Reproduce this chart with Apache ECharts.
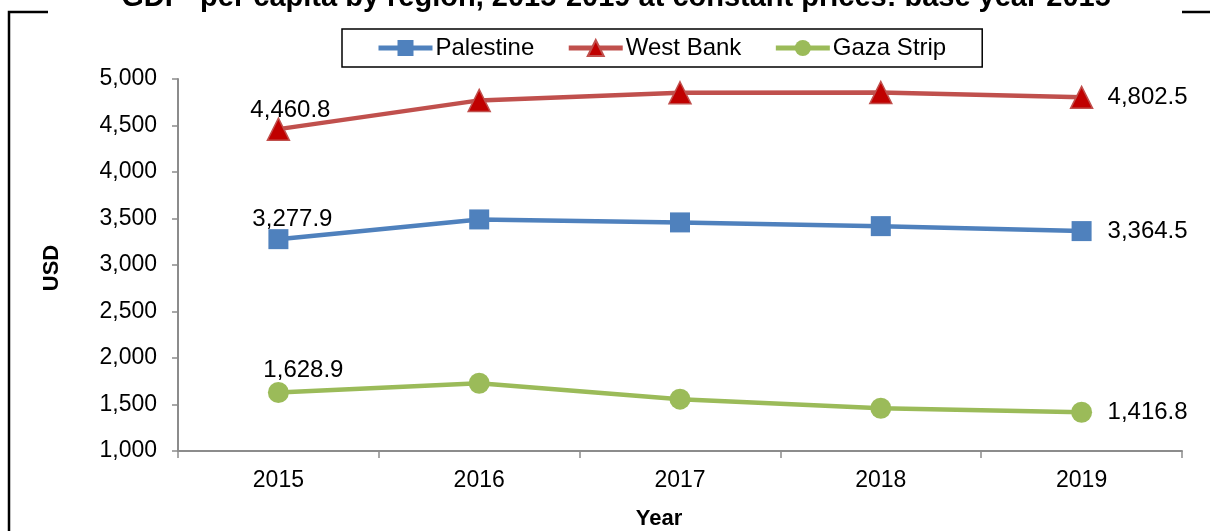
<!DOCTYPE html>
<html>
<head>
<meta charset="utf-8">
<script src="https://cdn.jsdelivr.net/npm/echarts@6/dist/echarts.min.js"></script>
<style>
html,body{margin:0;padding:0;background:#fff;}
#chart{width:1210px;height:531px;}
</style>
</head>
<body>
<div id="chart"></div>
<script>
var years = ['2015', '2016', '2017', '2018', '2019'];
var palestine = [3277.9, 3490, 3458, 3418, 3364.5];
var westBank = [4460.8, 4770, 4852, 4855, 4802.5];
var gazaStrip = [1628.9, 1729, 1557, 1460, 1416.8];
var yTicks = [1000, 5000, 500];

var FONT = 'Liberation Sans, Arial, sans-serif';

function fmt(v) {
  return v.toLocaleString('en-US', {minimumFractionDigits: 1, maximumFractionDigits: 1});
}

function withLabels(arr, firstOffset) {
  return arr.map(function (v, i) {
    var item = {value: v};
    if (i === 0) {
      item.label = {show: true, position: 'inside', offset: firstOffset};
    } else if (i === arr.length - 1) {
      item.label = {show: true, position: 'inside', offset: [66, 0]};
    }
    return item;
  });
}

var labelStyle = {
  color: '#000',
  fontFamily: FONT,
  fontSize: 24,
  formatter: function (p) { return fmt(p.value); }
};

var chart = echarts.init(document.getElementById('chart'), null, {renderer: 'canvas'});
chart.setOption({
  backgroundColor: '#fff',
  animation: false,
  textStyle: {fontFamily: FONT},
  grid: {left: 178, right: 28, top: 79, bottom: 80, containLabel: false},
  legend: {
    left: 342,
    top: 29,
    padding: [7, 36, 7, 34],
    borderColor: '#000',
    borderWidth: 1.5,
    itemGap: 32,
    itemWidth: 54,
    itemHeight: 20,
    lineStyle: {width: 5},
    textStyle: {fontSize: 24, color: '#000', fontFamily: FONT, padding: [2, 0, 0, -2]},
    data: ['Palestine', 'West Bank', 'Gaza Strip']
  },
  xAxis: {
    type: 'category',
    data: years,
    boundaryGap: true,
    axisLine: {lineStyle: {color: '#8c8c8c', width: 2}},
    axisTick: {show: true, length: 7, inside: false, lineStyle: {color: '#8c8c8c', width: 1.5}},
    axisLabel: {color: '#000', fontSize: 23, fontFamily: FONT, margin: 18},
    splitLine: {show: false}
  },
  yAxis: {
    type: 'value',
    min: yTicks[0],
    max: yTicks[1],
    interval: yTicks[2],
    axisLine: {show: true, lineStyle: {color: '#8c8c8c', width: 2}},
    axisTick: {show: true, length: 6, lineStyle: {color: '#8c8c8c', width: 1.5}},
    axisLabel: {
      color: '#000', fontSize: 23, fontFamily: FONT, margin: 21,
      formatter: function (v) { return v.toLocaleString('en-US'); }
    },
    splitLine: {show: false}
  },
  graphic: [
    {type: 'rect', z: 0, shape: {x: 9, y: 12, width: 1300, height: 600},
     style: {fill: 'none', stroke: '#000', lineWidth: 2.5}},
    {type: 'rect', z: 1, shape: {x: 48, y: 0, width: 1134, height: 16},
     style: {fill: '#fff'}},
    {type: 'text', z: 2, x: 616, y: -2,
     style: {text: 'GDP  per capita by region, 2015-2019 at constant prices: base year 2015',
             fill: '#000', font: 'bold 29px ' + FONT, textAlign: 'center', verticalAlign: 'middle'}},
    {type: 'text', z: 2, x: 52, y: 268, rotation: Math.PI / 2,
     style: {text: 'USD', fill: '#000', font: 'bold 22px ' + FONT, textAlign: 'center', verticalAlign: 'middle'}},
    {type: 'text', z: 2, x: 659, y: 519,
     style: {text: 'Year', fill: '#000', font: 'bold 22px ' + FONT, textAlign: 'center', verticalAlign: 'middle'}}
  ],
  series: [
    {
      name: 'Palestine',
      type: 'line',
      data: withLabels(palestine, [14, -20]),
      symbol: 'rect',
      symbolSize: 20,
      lineStyle: {color: '#4F81BD', width: 4.5},
      itemStyle: {color: '#4F81BD'},
      label: labelStyle,
      z: 3
    },
    {
      name: 'West Bank',
      type: 'line',
      data: withLabels(westBank, [12, -19]),
      symbol: 'triangle',
      symbolSize: 22,
      lineStyle: {color: '#C0504D', width: 4.5},
      itemStyle: {color: '#C00000', borderColor: '#C0504D', borderWidth: 1.5},
      label: labelStyle,
      z: 3
    },
    {
      name: 'Gaza Strip',
      type: 'line',
      data: withLabels(gazaStrip, [25, -22]),
      symbol: 'circle',
      symbolSize: 21,
      lineStyle: {color: '#9BBB59', width: 4.5},
      itemStyle: {color: '#9BBB59'},
      label: labelStyle,
      z: 3
    }
  ]
});
</script>
</body>
</html>
